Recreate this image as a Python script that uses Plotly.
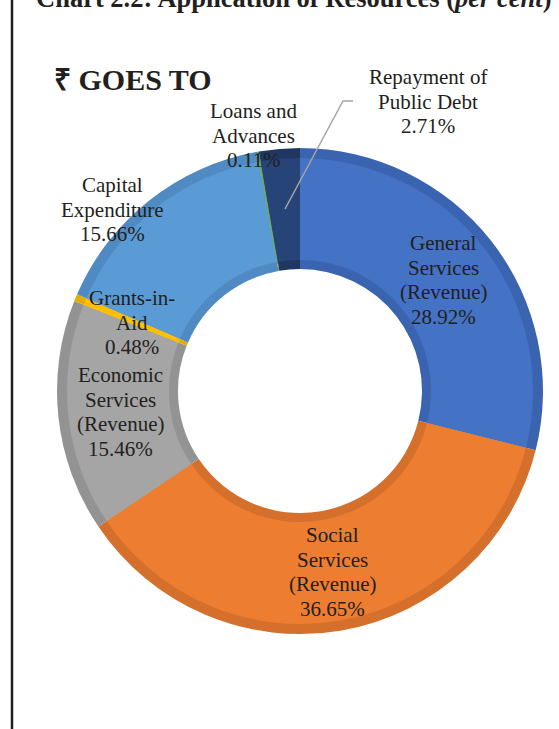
import plotly.graph_objects as go

# ---- data ----
categories = ["General Services (Revenue)", "Social Services (Revenue)",
              "Economic Services (Revenue)", "Grants-in-Aid",
              "Capital Expenditure", "Loans and Advances",
              "Repayment of Public Debt"]
label_lines = [["General", "Services", "(Revenue)"],
               ["Social", "Services", "(Revenue)"],
               ["Economic", "Services", "(Revenue)"],
               ["Grants-in-", "Aid"],
               ["Capital", "Expenditure"],
               ["Loans and", "Advances"],
               ["Repayment of", "Public Debt"]]
shares = [28.92, 36.65, 15.46, 0.48, 15.66, 0.11, 2.71]

# ---- styles ----
light = ["#4472C4", "#ED7D31", "#A5A5A5", "#FFC000", "#5B9BD5", "#70AD47", "#264478"]
dark = ["#3B64B0", "#D4702C", "#939393", "#E6AD00", "#4F8BC2", "#659C40", "#1F3862"]
# label centres (px) of the first line
label_pos = [(443, 243), (332, 535), (120, 375), (132, 298), (112, 185), (253, 111), (428, 77)]
W, H = 559, 729
LINE = 24.5
FONT = "Liberation Serif, Times New Roman, serif"


def px_dom(cx, cy, r):
    return dict(x=[(cx - r) / W, (cx + r) / W], y=[1 - (cy + r) / H, 1 - (cy - r) / H])


cx, cy, R, r_in, bev = 300, 391, 243, 122, 10

fig = go.Figure()
fig.add_trace(go.Pie(labels=categories, values=shares, sort=False, direction="clockwise",
                     rotation=0, hole=r_in / R, domain=px_dom(cx, cy, R),
                     marker=dict(colors=dark, line=dict(width=0)), textinfo="none",
                     hoverinfo="label+percent", showlegend=False))
R2, r2 = R - bev, r_in + bev - 1
fig.add_trace(go.Pie(labels=categories, values=shares, sort=False, direction="clockwise",
                     rotation=0, hole=r2 / R2, domain=px_dom(cx, cy, R2),
                     marker=dict(colors=light, line=dict(width=0)), textinfo="none",
                     hoverinfo="label+percent", showlegend=False))

annotations = []
for lines, val, (lx, ly) in zip(label_lines, shares, label_pos):
    for i, t in enumerate(lines + [f"{val:.2f}%"]):
        annotations.append(dict(x=lx / W, y=1 - (ly + i * LINE) / H, xref="paper", yref="paper",
                                text=t, showarrow=False, xanchor="center", yanchor="middle",
                                font=dict(family=FONT, size=21, color="#231F20")))

annotations.append(dict(x=52 / W, y=1 - 79 / H, xref="paper", yref="paper",
                        text="<b>₹ GOES TO</b>", showarrow=False, xanchor="left", yanchor="middle",
                        font=dict(family=FONT, size=30, color="#231F20")))
annotations.append(dict(x=34 / W, y=1 + 2 / H, xref="paper", yref="paper",
                        text="<b>Chart 2.2: Application of Resources (<i>per cent</i>)</b>",
                        showarrow=False, xanchor="left", yanchor="middle",
                        font=dict(family=FONT, size=26.5, color="#231F20")))

shapes = [
    dict(type="line", xref="paper", yref="paper", x0=12 / W, x1=12 / W, y0=0, y1=1,
         line=dict(color="#231F20", width=2.5)),
    dict(type="path", xref="paper", yref="paper",
         path=f"M {353 / W} {1 - 101 / H} L {343 / W} {1 - 101 / H} L {285 / W} {1 - 209 / H}",
         line=dict(color="#A6A6A6", width=1.5)),
]

fig.update_layout(width=W, height=H, margin=dict(l=0, r=0, t=0, b=0),
                  paper_bgcolor="white", plot_bgcolor="white",
                  annotations=annotations, shapes=shapes)
fig.write_html("out.html")
